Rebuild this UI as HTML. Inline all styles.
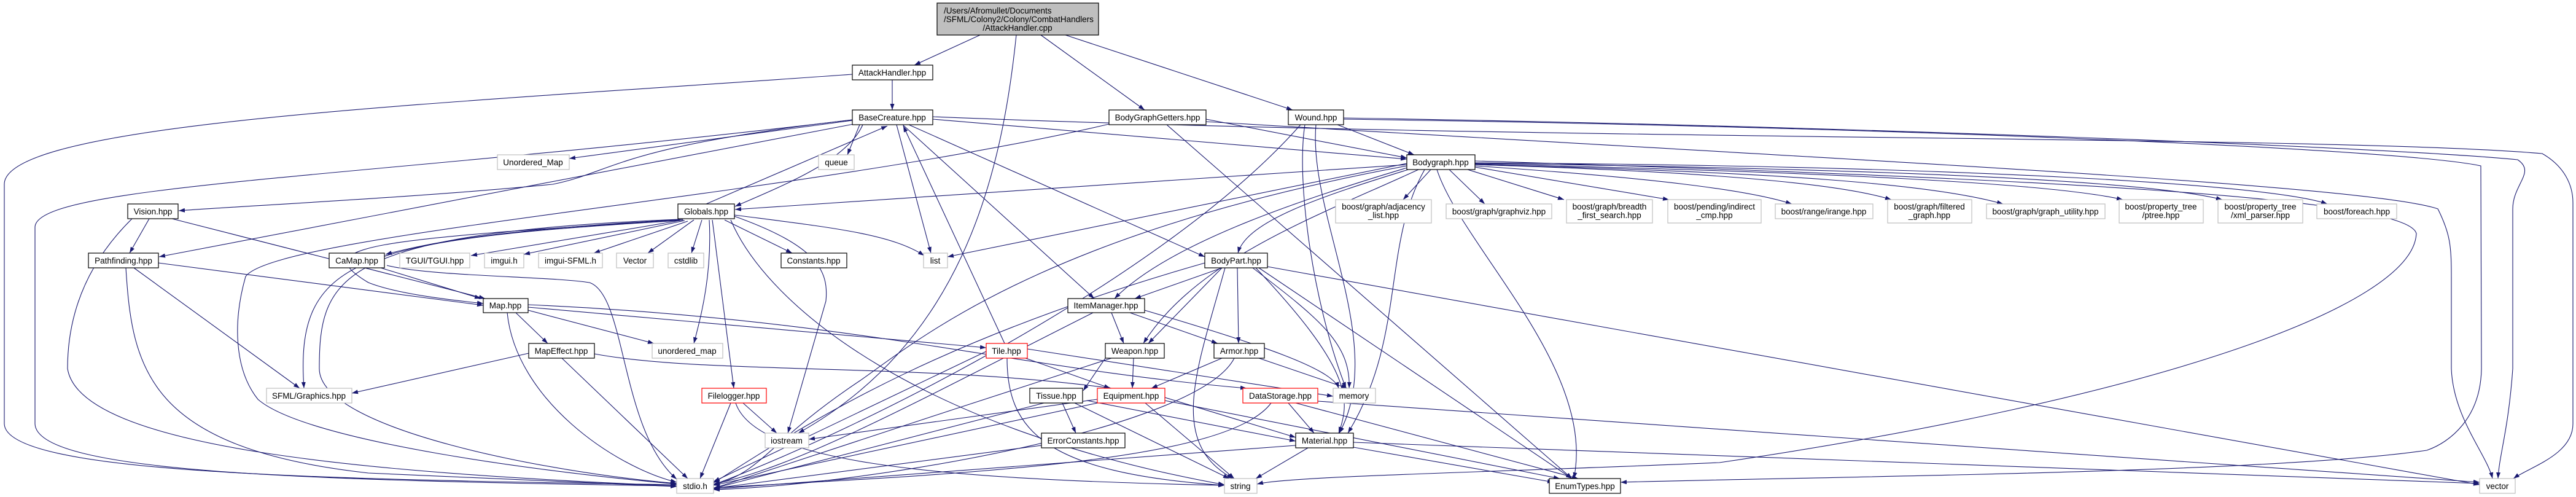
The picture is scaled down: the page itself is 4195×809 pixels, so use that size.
<!DOCTYPE html>
<html><head><meta charset="utf-8"><style>
html,body{margin:0;padding:0;background:#fff;}
svg{display:block;}
text{font-family:"Liberation Sans",Arial,sans-serif;font-size:13.5px;fill:#000;text-anchor:middle;}
.e{fill:none;stroke:#191970;stroke-width:1.1;marker-end:url(#a);}
.k{fill:#fff;stroke:#000;stroke-width:1.2;}
.g{fill:#fff;stroke:#bfbfbf;stroke-width:1.2;}
.r{fill:#fff;stroke:#ff0000;stroke-width:1.2;}
</style></head><body>
<svg width="4195" height="809" viewBox="0 0 4195 809" xmlns="http://www.w3.org/2000/svg">
<defs><marker id="a" markerUnits="userSpaceOnUse" markerWidth="11" markerHeight="8" refX="10" refY="3.5" orient="auto"><path d="M0,0 L10,3.5 L0,7 z" fill="#191970"/></marker></defs>
<g>
<path class="e" d="M1596 57 L1489 106"/>
<path class="e" d="M1695 57 L1864 179"/>
<path class="e" d="M1735 57 L2105 179"/>
<path class="e" d="M1655 57 C1630 300 1560 560 1300 705"/>
<path class="e" d="M1453 130 L1453 179"/>
<path class="e" d="M1388 121 C700 170 7 200 7 300 L7 690 C10 770 500 780 1102 789"/>
<path class="e" d="M1388 195 C600 290 57 300 57 370 L57 690 C60 770 500 782 1102 791"/>
<path class="e" d="M1388 196 L927 258"/>
<path class="e" d="M1388 195 C1000 240 1000 280 900 300 C700 320 400 335 291 343"/>
<path class="e" d="M1390 202 L259 418"/>
<path class="e" d="M1400 203 L1380 252"/>
<path class="e" d="M1405 203 C1380 260 1280 300 1197 336"/>
<path class="e" d="M1460 203 L1516 412"/>
<path class="e" d="M1470 203 L1782 486"/>
<path class="e" d="M1480 203 L1962 418"/>
<path class="e" d="M1519 194 L2291 259"/>
<path class="e" d="M1519 190 C2500 230 3800 220 4140 250 C4175 270 4190 300 4190 330 L4190 690 C4190 740 4120 760 4093 779"/>
<path class="e" d="M2188 192 C3000 205 3900 240 4100 260 C4130 280 4092 300 4092 340 L4092 600 C4085 700 4070 740 4068 779"/>
<path class="e" d="M1964 198 C3000 260 3850 300 3970 340 C3990 380 3992 400 3992 450 L3992 600 C3995 680 4050 740 4059 779"/>
<path class="e" d="M2188 194 C3000 205 3900 240 4040 270 L4041 600 C4040 680 3990 720 3952 733 C3700 770 3000 775 2639 785"/>
<path class="e" d="M2064 434 L4038 789"/>
<path class="e" d="M2402 262 C3300 290 3920 320 3935 380 C3930 500 3500 650 2800 753 C2400 770 2100 775 2047 788"/>
<path class="e" d="M2330 276 L2285 325"/>
<path class="e" d="M2360 276 L2418 332"/>
<path class="e" d="M2390 276 L2547 325"/>
<path class="e" d="M2402 272 L2718 325"/>
<path class="e" d="M2402 270 C2700 290 2850 310 2918 332"/>
<path class="e" d="M2402 268 C2800 280 3000 300 3080 325"/>
<path class="e" d="M2402 268 C2900 280 3150 300 3262 332"/>
<path class="e" d="M2402 267 C3000 280 3350 300 3457 325"/>
<path class="e" d="M2402 266 C3100 275 3500 295 3619 325"/>
<path class="e" d="M2402 265 C3200 270 3700 300 3790 332"/>
<path class="e" d="M2291 266 L1543 418"/>
<path class="e" d="M2291 270 C1700 380 1500 550 1400 620 C1250 720 1240 770 1162 789"/>
<path class="e" d="M2295 272 C2100 330 1900 400 1815 486"/>
<path class="e" d="M2300 274 C2150 320 2030 360 2016 412"/>
<path class="e" d="M2310 276 C2150 350 1950 420 1862 559"/>
<path class="e" d="M2125 203 C2110 300 2140 500 2192 632"/>
<path class="e" d="M2143 203 C2130 350 2260 560 2181 705"/>
<path class="e" d="M2118 203 C1900 450 1400 700 1162 789"/>
<path class="e" d="M2320 276 C2250 400 2290 550 2195 705"/>
<path class="e" d="M2340 276 C2380 400 2600 600 2563 779"/>
<path class="e" d="M2291 268 L1197 341"/>
<path class="e" d="M1806 202 C1300 320 450 380 400 450 C380 520 380 600 420 650 C500 720 900 770 1102 788"/>
<path class="e" d="M1964 194 L2291 257"/>
<path class="e" d="M1900 203 L2560 779"/>
<path class="e" d="M2178 203 L2303 252"/>
<path class="e" d="M1112 357 C800 375 700 395 628 414"/>
<path class="e" d="M1113 358 L767 416"/>
<path class="e" d="M1115 359 L853 414"/>
<path class="e" d="M1120 360 L967 412"/>
<path class="e" d="M1130 358 L1055 412"/>
<path class="e" d="M1143 358 L1126 412"/>
<path class="e" d="M1180 358 L1290 412"/>
<path class="e" d="M1196 350 C1350 370 1450 380 1505 416"/>
<path class="e" d="M1160 358 L1195 632"/>
<path class="e" d="M1155 358 C1160 450 1140 520 1130 559"/>
<path class="e" d="M1196 352 C1330 400 1350 440 1345 490 L1283 705"/>
<path class="e" d="M1106 357 C550 380 520 450 520 600 C520 700 900 770 1102 787"/>
<path class="e" d="M1108 358 C600 390 500 400 600 460 C650 480 750 490 787 494"/>
<path class="e" d="M1108 359 C580 390 480 420 495 632"/>
<path class="e" d="M1190 358 C1250 500 1500 700 1994 789"/>
<path class="e" d="M1150 332 L1445 205"/>
<path class="e" d="M243 356 L211 412"/>
<path class="e" d="M280 356 L790 486"/>
<path class="e" d="M215 356 C150 420 110 500 110 600 C130 730 600 770 1102 791"/>
<path class="e" d="M258 428 L787 497"/>
<path class="e" d="M218 436 L488 632"/>
<path class="e" d="M205 436 C215 600 240 730 600 770 L1102 792"/>
<path class="e" d="M620 436 L783 486"/>
<path class="e" d="M630 432 C700 450 900 450 960 460 C1020 480 1010 700 1102 780"/>
<path class="e" d="M840 509 L892 559"/>
<path class="e" d="M860 505 L1065 559"/>
<path class="e" d="M826 509 C840 650 1000 760 1102 785"/>
<path class="e" d="M860 500 L1606 566"/>
<path class="e" d="M860 496 C1400 520 1650 600 2030 632"/>
<path class="e" d="M861 575 L573 640"/>
<path class="e" d="M915 583 L1120 779"/>
<path class="e" d="M968 576 C1150 610 1500 590 1810 632"/>
<path class="e" d="M1210 656 L1265 705"/>
<path class="e" d="M1190 656 L1140 779"/>
<path class="e" d="M1198 656 C1230 750 1500 780 1994 790"/>
<path class="e" d="M1990 436 L1848 486"/>
<path class="e" d="M1990 436 L1870 559"/>
<path class="e" d="M2015 436 L2017 559"/>
<path class="e" d="M2040 436 C2150 520 2200 560 2197 632"/>
<path class="e" d="M1995 436 C1950 600 1900 720 2008 779"/>
<path class="e" d="M2050 436 L2560 779"/>
<path class="e" d="M2045 436 C2200 600 2200 650 2180 705"/>
<path class="e" d="M1962 428 C1500 560 1300 700 1162 786"/>
<path class="e" d="M1810 509 L1830 559"/>
<path class="e" d="M1840 509 L1983 559"/>
<path class="e" d="M1864 505 C2050 560 2170 600 2180 632"/>
<path class="e" d="M1780 509 C1500 650 1300 760 1162 788"/>
<path class="e" d="M1636 559 L1471 205"/>
<path class="e" d="M1670 583 L1808 632"/>
<path class="e" d="M1673 568 L2171 645"/>
<path class="e" d="M1640 583 C1640 700 1700 770 1994 790"/>
<path class="e" d="M1606 572 L1162 784"/>
<path class="e" d="M1846 583 L1844 632"/>
<path class="e" d="M1800 583 L1764 636"/>
<path class="e" d="M1810 583 C1600 650 1300 750 1162 795"/>
<path class="e" d="M1990 583 L1875 632"/>
<path class="e" d="M2050 583 L2194 632"/>
<path class="e" d="M2010 583 C1950 700 1400 790 1162 797"/>
<path class="e" d="M1730 656 L1752 705"/>
<path class="e" d="M1750 656 L2002 779"/>
<path class="e" d="M1770 652 L2110 718"/>
<path class="e" d="M1700 656 L1162 795"/>
<path class="e" d="M1897 647 L2110 712"/>
<path class="e" d="M1865 656 L2010 779"/>
<path class="e" d="M1897 652 L2540 779"/>
<path class="e" d="M1787 656 L1162 790"/>
<path class="e" d="M1787 650 L1317 715"/>
<path class="e" d="M2098 656 L2140 705"/>
<path class="e" d="M2146 653 L4038 785"/>
<path class="e" d="M2110 656 L2570 779"/>
<path class="e" d="M2070 656 C2000 750 1600 770 1162 794"/>
<path class="e" d="M1696 725 L1162 795"/>
<path class="e" d="M2130 729 L2045 779"/>
<path class="e" d="M2204 728 L2530 785"/>
<path class="e" d="M2204 720 L4038 787"/>
<path class="e" d="M2110 725 L1162 796"/>
</g>
<g>
<rect x="1526" y="5" width="263" height="52" fill="#bfbfbf" stroke="#000" stroke-width="1.2"/>
<text x="1537" y="22" style="text-anchor:start">/Users/Afromullet/Documents</text>
<text x="1537" y="36" style="text-anchor:start">/SFML/Colony2/Colony/CombatHandlers</text>
<text x="1657" y="50">/AttackHandler.cpp</text>

<rect class="k" x="1388" y="106" width="131" height="24"/><text x="1453" y="123">AttackHandler.hpp</text>
<rect class="k" x="1388" y="179" width="131" height="24"/><text x="1453" y="196">BaseCreature.hpp</text>
<rect class="k" x="1806" y="179" width="158" height="24"/><text x="1885" y="196">BodyGraphGetters.hpp</text>
<rect class="k" x="2098" y="179" width="90" height="24"/><text x="2143" y="196">Wound.hpp</text>
<rect class="g" x="810" y="252" width="117" height="24"/><text x="868" y="269">Unordered_Map</text>
<rect class="g" x="1333" y="252" width="58" height="24"/><text x="1362" y="269">queue</text>
<rect class="k" x="2291" y="252" width="111" height="24"/><text x="2346" y="269">Bodygraph.hpp</text>
<rect class="k" x="208" y="332" width="82" height="24"/><text x="249" y="349">Vision.hpp</text>
<rect class="k" x="1104" y="332" width="92" height="24"/><text x="1150" y="349">Globals.hpp</text>

<rect class="g" x="2175" y="325" width="156" height="38"/><text x="2253" y="341">boost/graph/adjacency</text><text x="2253" y="355">_list.hpp</text>
<rect class="g" x="2355" y="332" width="172" height="24"/><text x="2441" y="349">boost/graph/graphviz.hpp</text>
<rect class="g" x="2551" y="325" width="140" height="38"/><text x="2621" y="341">boost/graph/breadth</text><text x="2621" y="355">_first_search.hpp</text>
<rect class="g" x="2716" y="325" width="152" height="38"/><text x="2792" y="341">boost/pending/indirect</text><text x="2792" y="355">_cmp.hpp</text>
<rect class="g" x="2891" y="332" width="159" height="24"/><text x="2970" y="349">boost/range/irange.hpp</text>
<rect class="g" x="3074" y="325" width="137" height="38"/><text x="3142" y="341">boost/graph/filtered</text><text x="3142" y="355">_graph.hpp</text>
<rect class="g" x="3235" y="332" width="193" height="24"/><text x="3331" y="349">boost/graph/graph_utility.hpp</text>
<rect class="g" x="3451" y="325" width="137" height="38"/><text x="3519" y="341">boost/property_tree</text><text x="3519" y="355">/ptree.hpp</text>
<rect class="g" x="3612" y="325" width="138" height="38"/><text x="3681" y="341">boost/property_tree</text><text x="3681" y="355">/xml_parser.hpp</text>
<rect class="g" x="3773" y="332" width="130" height="24"/><text x="3838" y="349">boost/foreach.hpp</text>

<rect class="k" x="144" y="412" width="114" height="24"/><text x="201" y="429">Pathfinding.hpp</text>
<rect class="k" x="536" y="412" width="90" height="24"/><text x="581" y="429">CaMap.hpp</text>
<rect class="g" x="651" y="412" width="114" height="24"/><text x="708" y="429">TGUI/TGUI.hpp</text>
<rect class="g" x="789" y="412" width="64" height="24"/><text x="821" y="429">imgui.h</text>
<rect class="g" x="877" y="412" width="104" height="24"/><text x="929" y="429">imgui-SFML.h</text>
<rect class="g" x="1004" y="412" width="60" height="24"/><text x="1034" y="429">Vector</text>
<rect class="g" x="1088" y="412" width="58" height="24"/><text x="1117" y="429">cstdlib</text>
<rect class="k" x="1272" y="412" width="107" height="24"/><text x="1325" y="429">Constants.hpp</text>
<rect class="g" x="1504" y="412" width="39" height="24"/><text x="1523" y="429">list</text>
<rect class="k" x="1962" y="412" width="102" height="24"/><text x="2013" y="429">BodyPart.hpp</text>

<rect class="k" x="787" y="486" width="73" height="23"/><text x="823" y="502">Map.hpp</text>
<rect class="k" x="1739" y="486" width="125" height="23"/><text x="1801" y="502">ItemManager.hpp</text>

<rect class="k" x="861" y="559" width="107" height="24"/><text x="914" y="576">MapEffect.hpp</text>
<rect class="g" x="1062" y="559" width="115" height="24"/><text x="1119" y="576">unordered_map</text>
<rect class="r" x="1606" y="559" width="67" height="24"/><text x="1639" y="576">Tile.hpp</text>
<rect class="k" x="1800" y="559" width="96" height="24"/><text x="1848" y="576">Weapon.hpp</text>
<rect class="k" x="1977" y="559" width="82" height="24"/><text x="2018" y="576">Armor.hpp</text>

<rect class="g" x="434" y="632" width="139" height="24"/><text x="503" y="649">SFML/Graphics.hpp</text>
<rect class="r" x="1143" y="632" width="105" height="24"/><text x="1195" y="649">Filelogger.hpp</text>
<rect class="k" x="1677" y="632" width="86" height="24"/><text x="1720" y="649">Tissue.hpp</text>
<rect class="r" x="1787" y="632" width="110" height="24"/><text x="1842" y="649">Equipment.hpp</text>
<rect class="r" x="2024" y="632" width="122" height="24"/><text x="2085" y="649">DataStorage.hpp</text>
<rect class="g" x="2171" y="632" width="69" height="24"/><text x="2205" y="649">memory</text>

<rect class="g" x="1246" y="705" width="71" height="24"/><text x="1281" y="722">iostream</text>
<rect class="k" x="1696" y="705" width="136" height="24"/><text x="1764" y="722">ErrorConstants.hpp</text>
<rect class="k" x="2110" y="705" width="94" height="24"/><text x="2157" y="722">Material.hpp</text>

<rect class="g" x="1102" y="779" width="60" height="24"/><text x="1132" y="796">stdio.h</text>
<rect class="g" x="1994" y="779" width="53" height="24"/><text x="2020" y="796">string</text>
<rect class="k" x="2523" y="779" width="116" height="24"/><text x="2581" y="796">EnumTypes.hpp</text>
<rect class="g" x="4038" y="779" width="58" height="24"/><text x="4067" y="796">vector</text>
</g>
</svg>
</body></html>
